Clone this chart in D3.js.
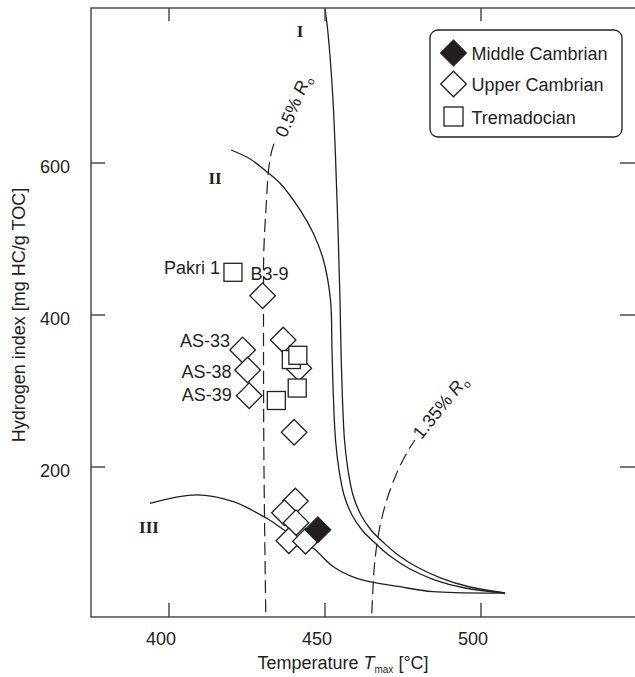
<!DOCTYPE html>
<html>
<head>
<meta charset="utf-8">
<script src="https://cdn.jsdelivr.net/npm/d3@7"></script>
<style>
  body { margin: 0; background: #fff; }
  svg { display: block; }
  text { font-family: "Liberation Sans", Arial, sans-serif; fill: #231f20; }
  .roman { font-family: "Liberation Serif", "Times New Roman", serif; font-weight: bold; }
</style>
</head>
<body>
<div id="chart"></div>
<script>
// Tmax [°C] / HI [mg HC/g TOC]
const xTicks = [400, 450, 500];
const yTicks = [200, 400, 600];

const middleCambrian = [[447.7, 117.5]];
const upperCambrian = [
    [430.0, 425.4], [423.6, 354.0], [425.2, 327.6], [425.7, 293.8],
    [436.6, 367.1], [441.6, 329.9], [440.1, 245.7], [440.5, 155.3],
    [437.0, 139.9], [440.7, 126.7], [438.4, 103.0], [443.75, 102.4]
];
const tremadocian = [
    [420.5, 456.2], [439.2, 341.4], [441.3, 347.0], [441.1, 303.9], [434.4, 287.5]
];

const sampleNames = ["Pakri 1", "B3-9", "AS-33", "AS-38", "AS-39"];
const samplePoints = [
    [420.5, 456.2], [430.0, 425.4], [423.6, 354.0], [425.2, 327.6], [425.7, 293.8]
];

// kerogen type evolution paths
const typeI = [
    [450.0, 803.9], [450.96, 771.1], [452.56, 682.9], [453.85, 551.3], [454.81, 419.7],
    [455.13, 353.9], [455.61, 288.2], [456.25, 235.5], [457.37, 196.1], [458.97, 163.2],
    [461.54, 136.8], [464.74, 117.1], [468.91, 100.0], [473.4, 84.2], [479.49, 68.4],
    [487.18, 53.9], [496.47, 42.1], [507.69, 34.2]
];
const typeII = [
    [419.9, 617.1], [426.0, 605.3], [431.3, 588.6], [435.6, 573.3], [442.0, 538.2],
    [446.25, 507.5], [449.5, 472.4], [451.76, 419.7], [452.24, 353.9], [452.72, 288.2],
    [453.37, 235.5], [454.49, 196.1], [456.09, 163.2], [458.65, 136.8], [461.86, 117.1],
    [466.03, 100.0], [470.83, 82.9], [477.24, 65.8], [485.26, 51.3], [494.87, 40.8],
    [507.69, 34.2]
];
const typeIII = [
    [393.9, 152.2], [408.9, 163.2], [420.6, 154.3], [431.3, 132.5], [437.7, 114.9],
    [446.25, 93.0], [452.7, 68.8], [460.2, 53.6], [474.0, 42.5], [484.7, 35.9], [507.69, 34.2]
];

// vitrinite reflectance iso-lines
const ro050 = [
    [431.0, 9.2], [430.4, 222.0], [430.3, 420.0], [430.4, 485.5], [431.25, 551.0],
    [431.9, 590.8], [432.85, 614.5], [434.0, 630.0]
];
const ro135 = [
    [465.0, 7.5], [465.3, 34.2], [466.0, 77.6], [467.6, 121.4], [469.8, 156.6],
    [473.0, 192.1], [476.2, 218.4], [478.8, 235.5]
];

const width = 635, height = 677;
const frame = { left: 91, top: 8, right: 636, bottom: 617 };

const svg = d3.select("#chart")
    .append("svg")
    .attr("width", width)
    .attr("height", height);

const x = d3.scaleLinear().domain([400, 500]).range([169, 481]);
const y = d3.scaleLinear().domain([200, 600]).range([467, 163]);

const line = d3.line()
    .x(d => x(d[0]))
    .y(d => y(d[1]))
    .curve(d3.curveCatmullRom.alpha(0.5));

// curves
[typeI, typeII, typeIII].forEach(c => {
    svg.append("path")
        .attr("d", line(c))
        .attr("fill", "none")
        .attr("stroke", "#231f20")
        .attr("stroke-width", 1.3);
});

[ro050, ro135].forEach(c => {
    svg.append("path")
        .attr("d", line(c))
        .attr("fill", "none")
        .attr("stroke", "#231f20")
        .attr("stroke-width", 1.2)
        .attr("stroke-dasharray", "13,6");
});

// frame and ticks
svg.append("rect")
    .attr("x", frame.left)
    .attr("y", frame.top)
    .attr("width", frame.right - frame.left)
    .attr("height", frame.bottom - frame.top)
    .attr("fill", "none")
    .attr("stroke", "#4d4d4d")
    .attr("stroke-width", 1.5);

const tickLen = 14;
xTicks.forEach(v => {
    svg.append("line")
        .attr("x1", x(v)).attr("x2", x(v))
        .attr("y1", frame.bottom).attr("y2", frame.bottom - tickLen)
        .attr("stroke", "#4d4d4d").attr("stroke-width", 1.5);
    svg.append("line")
        .attr("x1", x(v)).attr("x2", x(v))
        .attr("y1", frame.top).attr("y2", frame.top + tickLen - 1)
        .attr("stroke", "#4d4d4d").attr("stroke-width", 1.5);
    svg.append("text")
        .attr("x", x(v) - 8)
        .attr("y", 645)
        .attr("text-anchor", "middle")
        .style("font-size", "18px")
        .text(v);
});

yTicks.forEach(v => {
    svg.append("line")
        .attr("x1", frame.left).attr("x2", frame.left + tickLen)
        .attr("y1", y(v)).attr("y2", y(v))
        .attr("stroke", "#4d4d4d").attr("stroke-width", 1.5);
    svg.append("line")
        .attr("x1", 620).attr("x2", 636)
        .attr("y1", y(v)).attr("y2", y(v))
        .attr("stroke", "#4d4d4d").attr("stroke-width", 1.5);
    svg.append("text")
        .attr("x", 70)
        .attr("y", y(v) + 10)
        .attr("text-anchor", "end")
        .style("font-size", "18px")
        .text(v);
});

// axis labels
const xLabel = svg.append("text")
    .attr("x", 343)
    .attr("y", 669)
    .attr("text-anchor", "middle")
    .style("font-size", "18px");
xLabel.append("tspan").text("Temperature ");
xLabel.append("tspan").style("font-style", "italic").text("T");
xLabel.append("tspan").attr("dy", 4).style("font-size", "10px").text("max");
xLabel.append("tspan").attr("dy", -4).text(" [°C]");

svg.append("text")
    .attr("transform", "translate(25,315) rotate(-90)")
    .attr("text-anchor", "middle")
    .style("font-size", "18px")
    .text("Hydrogen index [mg HC/g TOC]");

// kerogen type labels
[["I", 300, 37], ["II", 215, 184], ["III", 149, 533]].forEach(([t, tx, ty]) => {
    svg.append("text")
        .attr("class", "roman")
        .attr("x", tx).attr("y", ty)
        .attr("text-anchor", "middle")
        .style("font-size", "17px")
        .text(t);
});

// Ro labels along the dashed lines
const roLabel = (txt, cx, cy, angle) => {
    const t = svg.append("text")
        .attr("transform", `translate(${cx},${cy}) rotate(${angle})`)
        .attr("text-anchor", "middle")
        .attr("dy", "0.35em")
        .style("font-size", "18px");
    t.append("tspan").text(txt + " ");
    t.append("tspan").style("font-style", "italic").text("R");
    t.append("tspan").attr("dy", 4).style("font-size", "11px").text("o");
};
roLabel("0.5%", 293, 106, -67);
roLabel("1.35%", 440, 407, -51);

// markers
const dh = 12.8, sq = 18;
const diamond = `M0,${-dh}L${dh},0L0,${dh}L${-dh},0Z`;

svg.selectAll(".upper")
    .data(upperCambrian)
    .join("path")
    .attr("class", "upper")
    .attr("transform", d => `translate(${x(d[0])},${y(d[1])})`)
    .attr("d", diamond)
    .attr("fill", "#fff")
    .attr("stroke", "#231f20")
    .attr("stroke-width", 1.3);

svg.selectAll(".trem")
    .data(tremadocian)
    .join("rect")
    .attr("class", "trem")
    .attr("x", d => x(d[0]) - sq / 2)
    .attr("y", d => y(d[1]) - sq / 2)
    .attr("width", sq)
    .attr("height", sq)
    .attr("fill", "#fff")
    .attr("stroke", "#231f20")
    .attr("stroke-width", 1.3);

svg.selectAll(".middle")
    .data(middleCambrian)
    .join("path")
    .attr("class", "middle")
    .attr("transform", d => `translate(${x(d[0])},${y(d[1])})`)
    .attr("d", diamond)
    .attr("fill", "#231f20")
    .attr("stroke", "#231f20")
    .attr("stroke-width", 1.3);

// sample labels, nudged next to their markers
const labelNudge = [[-13, 2, "end"], [-12, -15.5, "start"], [-12.5, -3, "end"], [-16, 8, "end"], [-17.5, 5.5, "end"]];
sampleNames.forEach((name, i) => {
    const [dx, dy, anchor] = labelNudge[i];
    svg.append("text")
        .attr("x", x(samplePoints[i][0]) + dx)
        .attr("y", y(samplePoints[i][1]) + dy)
        .attr("text-anchor", anchor)
        .style("font-size", "18px")
        .text(name);
});

// legend
const legend = svg.append("g").attr("transform", "translate(430,30)");
legend.append("rect")
    .attr("width", 192)
    .attr("height", 107)
    .attr("rx", 8)
    .attr("fill", "#fff")
    .attr("stroke", "#231f20")
    .attr("stroke-width", 1.3);

const legendItems = ["Middle Cambrian", "Upper Cambrian", "Tremadocian"];
legendItems.forEach((name, i) => {
    const g = legend.append("g").attr("transform", `translate(23.5,${23 + i * 31})`);
    if (i < 2) {
        g.append("path")
            .attr("d", diamond)
            .attr("fill", i === 0 ? "#231f20" : "#fff")
            .attr("stroke", "#231f20")
            .attr("stroke-width", 1.3);
    } else {
        g.append("rect")
            .attr("x", -9.5).attr("y", -8)
            .attr("width", 19).attr("height", 19)
            .attr("fill", "#fff")
            .attr("stroke", "#231f20")
            .attr("stroke-width", 1.3);
    }
    g.append("text")
        .attr("x", 18)
        .attr("y", 6.5 + (i === 2 ? 2 : 0))
        .style("font-size", "18px")
        .text(name);
});
</script>
</body>
</html>
